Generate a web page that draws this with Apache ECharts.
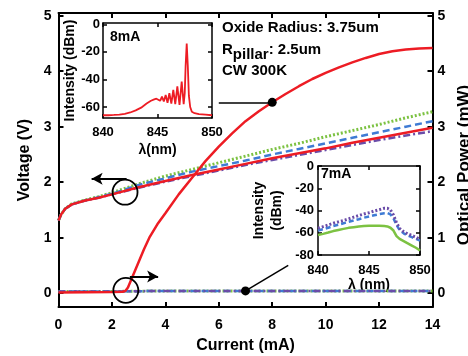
<!DOCTYPE html>
<html>
<head>
<meta charset="utf-8">
<script src="https://cdn.jsdelivr.net/npm/echarts@6.0.0/dist/echarts.min.js"></script>
<style>
html, body { margin: 0; padding: 0; background: #fff; }
#main { width: 468px; height: 356px; }
</style>
</head>
<body>
<div id="main"></div>
<script>
// L-I-V data (current in mA)
var currentMA = [ 0, 0.1, 0.25, 0.5, 1, 1.5, 2, 3, 4, 5, 6, 7, 8, 9, 10, 11, 12, 13, 14 ];
var voltRed = [ 1.31, 1.42, 1.52, 1.6, 1.67, 1.72, 1.78, 1.91, 2.02, 2.13, 2.23, 2.33, 2.43, 2.52, 2.61, 2.71, 2.8, 2.89, 2.98 ];
var voltBlue = [ 1.31, 1.42, 1.52, 1.6, 1.67, 1.73, 1.79, 1.95, 2.07, 2.19, 2.29, 2.39, 2.5, 2.6, 2.7, 2.8, 2.9, 3.0, 3.1 ];
var voltGreen = [ 1.31, 1.42, 1.52, 1.61, 1.68, 1.74, 1.81, 1.97, 2.11, 2.23, 2.35, 2.47, 2.59, 2.7, 2.82, 2.93, 3.04, 3.16, 3.27 ];
var voltPurple = [ 1.31, 1.42, 1.52, 1.6, 1.67, 1.72, 1.78, 1.9, 2.01, 2.11, 2.21, 2.31, 2.4, 2.49, 2.58, 2.67, 2.76, 2.84, 2.92 ];

var powerRedI = [ 0, 1, 2, 2.4, 2.5, 2.6, 2.8, 3, 3.2, 3.4, 3.7, 4, 4.5, 5, 5.5, 6, 6.5, 7, 7.5, 8, 8.5, 9, 9.5, 10, 10.5, 11, 11.5, 12, 12.5, 13, 13.5, 14 ];
var powerRed = [ 0.01, 0.015, 0.02, 0.025, 0.04, 0.1, 0.33, 0.56, 0.79, 1.0, 1.24, 1.44, 1.78, 2.08, 2.38, 2.64, 2.88, 3.1, 3.28, 3.44, 3.59, 3.73, 3.86, 3.97, 4.07, 4.16, 4.24, 4.31, 4.36, 4.39, 4.41, 4.42 ];
var powerFlatI = [ 0, 2, 4, 6, 8, 10, 12, 14 ];
var powerBlue = [ 0.03, 0.03, 0.04, 0.04, 0.04, 0.04, 0.04, 0.04 ];
var powerGreen = [ 0.03, 0.03, 0.04, 0.04, 0.04, 0.04, 0.04, 0.04 ];
var powerPurple = [ 0.03, 0.03, 0.04, 0.04, 0.04, 0.04, 0.04, 0.04 ];

// 8mA spectrum (inset 1)
var spec8Lambda = [ 840, 840.5, 841, 841.5, 842, 842.5, 843, 843.5, 844, 844.4, 844.7, 844.9, 845.07, 845.24, 845.41, 845.58, 845.75, 845.92, 846.09, 846.27, 846.45, 846.63, 846.82, 847.02, 847.22, 847.4, 847.5, 847.58, 847.68, 847.78, 847.88, 848, 848.15, 848.4, 848.8, 849.4, 850 ];
var spec8Db = [ -66, -66, -65.8, -65.5, -65, -64, -62.5, -60.5, -57.5, -55.5, -54.5, -54, -53.5, -55.5, -52.5, -56, -51.3, -57, -50, -57.5, -47.5, -58, -45, -58.5, -41.5, -58, -50, -30, -14, -30, -52, -60, -63.5, -64.5, -65.2, -65.6, -66 ];

// 7mA spectra (inset 2)
var spec7Lambda = [ 840, 840.5, 841, 841.5, 842, 842.5, 843, 843.5, 844, 844.5, 845, 845.5, 846, 846.5, 846.8, 847.1, 847.4, 847.7, 848, 848.4, 848.8, 849.2, 849.6, 850 ];
var spec7Green = [ -62, -61, -59.8, -58.5, -57.5, -56.5, -55.6, -55, -54.4, -54, -53.7, -53.6, -53.7, -54, -54.3, -55.5, -58, -63, -65.5, -67.5, -69.5, -71.5, -73.5, -76 ];
var spec7Blue = [ -58, -56.8, -55.5, -54, -52.8, -51.5, -50.2, -49, -47.8, -46.5, -45.4, -44.3, -43.3, -42.5, -42.3, -43.5, -47, -53, -57.5, -60.5, -62.5, -64, -65.5, -67 ];
var spec7Purple = [ -56, -54.5, -53, -51.5, -50.2, -49, -47.5, -46, -44.5, -43.2, -42, -40.5, -39.3, -38, -38, -39.5, -44, -51, -56, -59, -61, -62.5, -64, -66 ];

// tick labels
var mainYTicks = [ 0, 1, 2, 3, 4, 5 ];
var inset8Ticks = [ -60, -40, -20, 0 ];

// annotations (data coordinates)
var markDots = [ [ 8, 3.44 ], [ 7, 0.04 ] ];
var leaderLines = [ [ [ 6, 3.44 ], [ 8, 3.44 ] ], [ [ 7, 0.04 ], [ 8.6, 0.5 ] ] ];
var voltCircle = [ 2.49, 1.82 ];
var voltArrow = [ [ 2.55, 2.06 ], [ 1.24, 2.06 ] ];
var powerCircle = [ 2.52, 0.05 ];
var powerArrow = [ [ 2.67, 0.3 ], [ 3.73, 0.3 ] ];

var FONT = 'Liberation Sans, Arial, sans-serif';
var RED = '#ed1c24', BLUE = '#3f7bd4', GREEN = '#7cc242', PURPLE = '#6a4ca8';

function pairs(xs, ys) {
	return xs.map(function(x, i) {
		return [ x, ys[i] ];
	});
}

function baseAxis(grid, min, max, w, fs) {
	return {
		type : 'value',
		gridIndex : grid,
		min : min,
		max : max,
		splitLine : { show : false },
		axisLine : { show : true, onZero : false, lineStyle : { color : '#000', width : w } },
		axisTick : { show : true, inside : true, length : 5, lineStyle : { color : '#000', width : w } },
		axisLabel : { show : true, color : '#000', fontFamily : FONT, fontWeight : 'bold', fontSize : fs },
		nameTextStyle : { color : '#000', fontFamily : FONT, fontWeight : 'bold', fontSize : fs + 2 }
	};
}

function lineSeries(xi, yi, data, color, type, width) {
	return {
		type : 'line',
		xAxisIndex : xi,
		yAxisIndex : yi,
		data : data,
		showSymbol : false,
		symbol : 'none',
		lineStyle : { color : color, width : width, type : type },
		silent : true
	};
}

var chart = echarts.init(document.getElementById('main'));

// main axes
var xMain = baseAxis(0, 0, 14, 2, 14);
xMain.interval = 2;
xMain.position = 'bottom';
xMain.axisLabel.margin = 11;
xMain.name = 'Current (mA)';
xMain.nameLocation = 'middle';
xMain.nameGap = 31;
xMain.nameTextStyle.fontSize = 16;

var xMainTop = baseAxis(0, 0, 14, 2, 14);
xMainTop.interval = 2;
xMainTop.position = 'top';
xMainTop.axisLabel.show = false;

var yLeft = baseAxis(0, -0.25, 5.05, 2, 14);
yLeft.position = 'left';
yLeft.axisLabel.customValues = mainYTicks;
yLeft.axisTick.customValues = mainYTicks;
yLeft.axisLabel.margin = 7;
yLeft.name = 'Voltage (V)';
yLeft.nameLocation = 'middle';
yLeft.nameGap = 23;
yLeft.nameTextStyle.fontSize = 16;

var yRight = baseAxis(0, -0.25, 5.05, 2, 14);
yRight.position = 'right';
yRight.axisLabel.customValues = mainYTicks;
yRight.axisTick.customValues = mainYTicks;
yRight.axisLabel.margin = 5;
yRight.name = 'Optical Power (mW)';
yRight.nameLocation = 'middle';
yRight.nameGap = 23;
yRight.nameTextStyle.fontSize = 17;
yRight.nameTextStyle.padding = [ 0, 10, 0, 0 ];

// inset 1 axes (8mA)
var x8 = baseAxis(1, 840, 850, 1.5, 13);
x8.interval = 5;
x8.position = 'bottom';
x8.axisTick.length = 4;
x8.axisLabel.margin = 8;
x8.name = 'λ(nm)';
x8.nameLocation = 'middle';
x8.nameGap = 25;
x8.nameTextStyle.fontSize = 14;

var x8Top = baseAxis(1, 840, 850, 1.5, 13);
x8Top.interval = 5;
x8Top.position = 'top';
x8Top.axisTick.length = 4;
x8Top.axisLabel.show = false;

var y8 = baseAxis(1, -68, 1, 1.5, 13);
y8.position = 'left';
y8.axisTick.length = 4;
y8.axisLabel.customValues = inset8Ticks;
y8.axisTick.customValues = inset8Ticks;
y8.axisLabel.margin = 3;
y8.name = 'Intensity (dBm)';
y8.nameLocation = 'middle';
y8.nameGap = 25;
y8.nameTextStyle.fontSize = 14;

var y8Right = baseAxis(1, -68, 1, 1.5, 13);
y8Right.position = 'right';
y8Right.axisTick.length = 4;
y8Right.axisTick.customValues = inset8Ticks;
y8Right.axisLabel.show = false;

// inset 2 axes (7mA)
var x7 = baseAxis(2, 840, 850, 1.5, 13);
x7.interval = 5;
x7.position = 'bottom';
x7.axisTick.length = 4;
x7.axisLabel.margin = 9;
x7.name = 'λ (nm)';
x7.nameLocation = 'middle';
x7.nameGap = 19;
x7.nameTextStyle.fontSize = 14;

var x7Top = baseAxis(2, 840, 850, 1.5, 13);
x7Top.interval = 5;
x7Top.position = 'top';
x7Top.axisTick.length = 4;
x7Top.axisLabel.show = false;

var y7 = baseAxis(2, -80, 0, 1.5, 13);
y7.interval = 20;
y7.position = 'left';
y7.axisTick.length = 4;
y7.axisLabel.margin = 4;
y7.name = 'Intensity\n(dBm)';
y7.nameLocation = 'middle';
y7.nameGap = 32;
y7.nameTextStyle.fontSize = 14;
y7.nameTextStyle.lineHeight = 18;

var y7Right = baseAxis(2, -80, 0, 1.5, 13);
y7Right.interval = 20;
y7Right.position = 'right';
y7Right.axisTick.length = 4;
y7Right.axisLabel.show = false;

var dotSeries = {
	type : 'scatter',
	xAxisIndex : 0,
	yAxisIndex : 1,
	data : markDots,
	symbolSize : 9,
	itemStyle : { color : '#000', opacity : 1 },
	silent : true,
	z : 5,
	markLine : {
		silent : true,
		symbol : [ 'none', 'none' ],
		label : { show : false },
		lineStyle : { color : '#000', width : 1.5, type : 'solid', opacity : 1 },
		data : leaderLines.map(function(l) {
			return [ { coord : l[0] }, { coord : l[1] } ];
		})
	}
};

function circleSeries(yi, center, arrow) {
	return {
		type : 'scatter',
		xAxisIndex : 0,
		yAxisIndex : yi,
		data : [ center ],
		symbolSize : 25,
		itemStyle : { color : 'rgba(0,0,0,0)', borderColor : '#000', borderWidth : 1.8, opacity : 1 },
		silent : true,
		z : 6,
		markLine : {
			silent : true,
			symbol : [ 'none', 'arrow' ],
			symbolSize : [ 9, 11 ],
			label : { show : false },
			lineStyle : { color : '#000', width : 2, type : 'solid', opacity : 1 },
			data : [ [ { coord : arrow[0] }, { coord : arrow[1] } ] ]
		}
	};
}

var option = {
	animation : false,
	backgroundColor : '#fff',
	grid : [ {
		left : 58.5,
		top : 13,
		width : 374,
		height : 294,
		outerBoundsMode : 'none'
	}, {
		left : 103,
		top : 23,
		width : 109,
		height : 95,
		show : true,
		backgroundColor : '#fff',
		borderWidth : 0,
		outerBoundsMode : 'none'
	}, {
		left : 318,
		top : 166,
		width : 102,
		height : 89,
		show : true,
		backgroundColor : '#fff',
		borderWidth : 0,
		outerBoundsMode : 'none'
	} ],
	xAxis : [ xMain, xMainTop, x8, x8Top, x7, x7Top ],
	yAxis : [ yLeft, yRight, y8, y8Right, y7, y7Right ],
	series : [
		lineSeries(0, 0, pairs(currentMA, voltPurple), PURPLE, [ 7, 3, 2, 3 ], 2.5),
		lineSeries(0, 0, pairs(currentMA, voltGreen), GREEN, [ 2, 2 ], 3),
		lineSeries(0, 0, pairs(currentMA, voltBlue), BLUE, [ 7, 4 ], 2.5),
		lineSeries(0, 0, pairs(currentMA, voltRed), RED, 'solid', 2.5),
		lineSeries(0, 1, pairs(powerFlatI, powerGreen), GREEN, [ 2, 2 ], 3),
		lineSeries(0, 1, pairs(powerFlatI, powerBlue), BLUE, [ 7, 4 ], 2.5),
		lineSeries(0, 1, pairs(powerFlatI, powerPurple), PURPLE, [ 7, 3, 2, 3 ], 2.5),
		lineSeries(0, 1, pairs(powerRedI, powerRed), RED, 'solid', 2.5),
		dotSeries,
		circleSeries(0, voltCircle, voltArrow),
		circleSeries(1, powerCircle, powerArrow),
		lineSeries(2, 2, pairs(spec8Lambda, spec8Db), RED, 'solid', 1.8),
		lineSeries(4, 4, pairs(spec7Lambda, spec7Green), GREEN, 'solid', 2.5),
		lineSeries(4, 4, pairs(spec7Lambda, spec7Blue), BLUE, [ 5, 3 ], 2.5),
		lineSeries(4, 4, pairs(spec7Lambda, spec7Purple), PURPLE, [ 2, 2 ], 3)
	],
	graphic : [ {
		type : 'text',
		style : { x : 110, y : 37, text : '8mA', font : 'bold 14px ' + FONT, fill : '#000', verticalAlign : 'middle' },
		z : 100
	}, {
		type : 'text',
		style : { x : 321, y : 174, text : '7mA', font : 'bold 14px ' + FONT, fill : '#000', verticalAlign : 'middle' },
		z : 100
	}, {
		type : 'text',
		style : { x : 222, y : 28, text : 'Oxide Radius: 3.75um', font : 'bold 15px ' + FONT, fill : '#000', verticalAlign : 'middle' },
		z : 100
	}, {
		type : 'text',
		style : {
			x : 222,
			y : 50,
			text : '{r|R}{s|pillar}{r|: 2.5um}',
			verticalAlign : 'middle',
			rich : {
				r : { font : 'bold 15px ' + FONT, fill : '#000' },
				s : { font : 'bold 15px ' + FONT, fill : '#000', padding : [ 10, 0, 0, 0 ] }
			}
		},
		z : 100
	}, {
		type : 'text',
		style : { x : 222, y : 71, text : 'CW 300K', font : 'bold 15px ' + FONT, fill : '#000', verticalAlign : 'middle' },
		z : 100
	} ]
};
chart.setOption(option);
</script>
</body>
</html>
